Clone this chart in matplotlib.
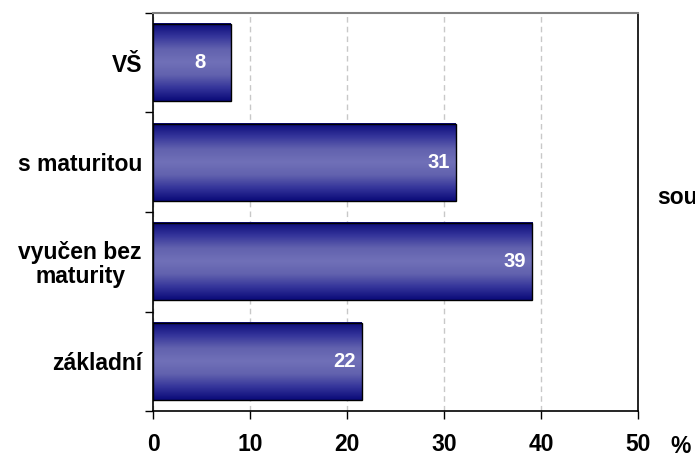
import numpy as np
import matplotlib.pyplot as plt
from matplotlib.colors import LinearSegmentedColormap

plt.rcParams['font.family'] = ['Liberation Sans', 'DejaVu Sans']
plt.rcParams['font.weight'] = 'bold'

# Data
categories = ['VŠ', 's maturitou', 'vyučen bez\nmaturity', 'základní']
values = [8.0, 31.2, 39.1, 21.5]
labels = ['8', '31', '39', '22']
xticks = [0, 10, 20, 30, 40, 50]

fig = plt.figure(figsize=(6.95, 4.61), dpi=100)
# plot area: x 153..638 px, y 13..411 px
ax = fig.add_axes([153 / 695, 1 - 411 / 461, 485 / 695, 398 / 461])

# cylinder-like gradient: dark at edges, light in the middle
cmap = LinearSegmentedColormap.from_list(
    'cyl', ['#0a0a78', '#34349a', '#6262ae', '#7070b8', '#6262ae', '#34349a', '#0a0a78'])
grad = np.linspace(0, 1, 256).reshape(-1, 1)

h = 0.776
label_shift = [2.6, 0.6, 0.6, 0.6]
for i, v in enumerate(values):
    ax.imshow(grad, cmap=cmap, aspect='auto', extent=[0, v, i + h / 2, i - h / 2],
              interpolation='bicubic', zorder=2)
    ax.add_patch(plt.Rectangle((0, i - h / 2), v, h, fill=False, edgecolor='black', lw=1.0, zorder=3))
    ax.text(v - label_shift[i], i, labels[i], color='white', fontsize=14.5, fontweight='bold',
            ha='right', va='center', zorder=4)

ax.set_xlim(0, 50)
ax.set_ylim(3.5, -0.5)
ax.set_xticks(xticks)
ax.set_xticklabels([str(t) for t in xticks], fontsize=16.5, fontweight='bold')
ax.tick_params(axis='x', length=5.8, pad=10, width=1)

ax.set_yticks(range(len(categories)))
ax.set_yticklabels(categories, fontsize=16.5, fontweight='bold', ha='right',
                   multialignment='center', linespacing=1.05)
ax.tick_params(axis='y', which='major', length=0, pad=8)
ax.set_yticks(np.arange(-0.5, 4, 1), minor=True)
ax.tick_params(axis='y', which='minor', length=5.8, width=1)

ax.grid(axis='x', color='#c8c8c8', linestyle=(0, (4, 3)), lw=1, zorder=0)
ax.set_axisbelow(True)

for s in ['left', 'bottom', 'right']:
    ax.spines[s].set_color('black')
    ax.spines[s].set_linewidth(1.2)
ax.spines['top'].set_color('#808080')
ax.spines['top'].set_linewidth(1.5)

fig.text(681 / 695, 1 - 446 / 461, '%', fontsize=16.5, fontweight='bold', ha='center', va='center')
# truncated legend text at the right edge, as in the original
fig.text(657 / 695, 1 - 204 / 461, 'sou', fontsize=16.5, fontweight='bold', ha='left', va='baseline')

fig.savefig('out.png', dpi=100)
